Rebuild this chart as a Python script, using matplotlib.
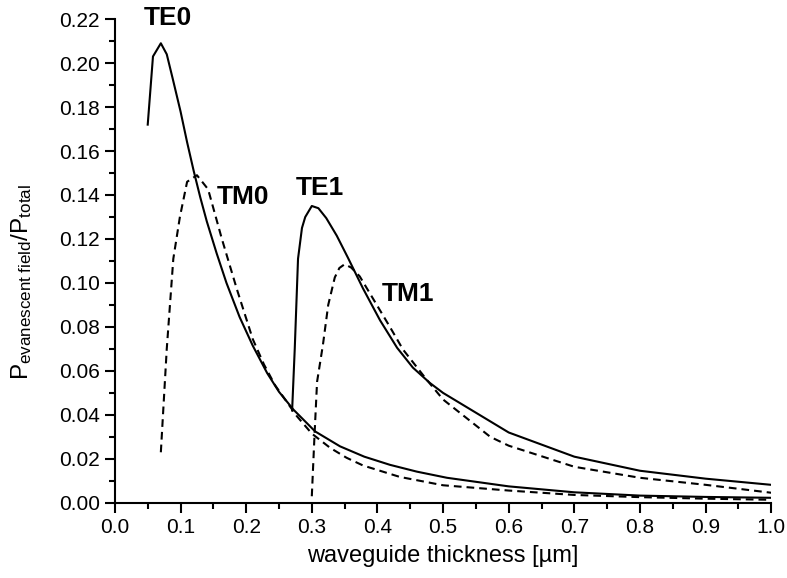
import numpy as np
import matplotlib
matplotlib.use("Agg")
import matplotlib.pyplot as plt
from matplotlib.ticker import MultipleLocator, FormatStrFormatter

plt.rcParams['font.family'] = ['Liberation Sans', 'DejaVu Sans']
plt.rcParams['mathtext.fontset'] = 'custom'
plt.rcParams['mathtext.rm'] = 'Liberation Sans'
plt.rcParams['mathtext.it'] = 'Liberation Sans'

# %% data
te0_x = [0.05, 0.058, 0.07, 0.079, 0.088, 0.10, 0.11, 0.12, 0.13, 0.14, 0.155, 0.17, 0.19, 0.21, 0.232, 0.25, 0.272,
         0.305, 0.343, 0.38, 0.419, 0.46, 0.506, 0.6, 0.7, 0.8, 0.9, 1.0]
te0_y = [0.172, 0.203, 0.209, 0.204, 0.193, 0.178, 0.164, 0.151, 0.139, 0.128, 0.1135, 0.100, 0.0845, 0.0715, 0.059, 0.0505, 0.0424,
         0.0325, 0.0257, 0.021, 0.0173, 0.0142, 0.0114, 0.0075, 0.0048, 0.0033, 0.0027, 0.0023]

tm0_x = [0.07, 0.079, 0.089, 0.099, 0.11, 0.125, 0.142, 0.163, 0.186, 0.21, 0.227, 0.244, 0.277, 0.30, 0.328, 0.353, 0.378, 0.434,
         0.5, 0.6, 0.7, 0.8, 0.9, 1.0]
tm0_y = [0.023, 0.070, 0.111, 0.130, 0.146, 0.149, 0.1426, 0.120, 0.097, 0.0745, 0.063, 0.0535, 0.0395, 0.0315, 0.025, 0.0205, 0.017,
         0.0118, 0.0080, 0.0056, 0.0036, 0.0026, 0.0019, 0.0014]

te1_x = [0.27, 0.274, 0.279, 0.285, 0.29, 0.30, 0.31, 0.322, 0.338, 0.355, 0.378, 0.404, 0.43, 0.454, 0.48, 0.5, 0.6, 0.7, 0.8, 0.9, 1.0]
te1_y = [0.042, 0.070, 0.111, 0.125, 0.130, 0.135, 0.134, 0.1295, 0.1215, 0.1115, 0.0975, 0.083, 0.0705, 0.0615, 0.0545, 0.050, 0.032,
         0.021, 0.0146, 0.011, 0.0082]

tm1_x = [0.30, 0.304, 0.308, 0.317, 0.325, 0.335, 0.342, 0.35, 0.36, 0.373, 0.394, 0.419, 0.439, 0.475, 0.5, 0.572, 0.6, 0.7, 0.8,
         0.9, 1.0]
tm1_y = [0.003, 0.030, 0.055, 0.072, 0.090, 0.1025, 0.1068, 0.1085, 0.107, 0.103, 0.0925, 0.080, 0.0697, 0.056, 0.047, 0.030, 0.026,
         0.0164, 0.0114, 0.0082, 0.0046]

labels = ['TE0', 'TM0', 'TE1', 'TM1']
label_pos = [(0.081, 0.2205), (0.195, 0.139), (0.3125, 0.143), (0.447, 0.095)]

# %%
fig = plt.figure(figsize=(7.87, 5.78), dpi=100)
ax = fig.add_axes([0.146, 0.130, 0.834, 0.837])

lw = 1.5
ax.plot(te0_x, te0_y, color='black', lw=lw)
ax.plot(te1_x, te1_y, color='black', lw=lw)
ax.plot(tm0_x, tm0_y, color='black', lw=lw, dashes=(3.7, 2.4))
ax.plot(tm1_x, tm1_y, color='black', lw=lw, dashes=(3.7, 2.4))

for lab, (x, y) in zip(labels, label_pos):
    ax.text(x, y, lab, fontsize=19, fontweight='bold', ha='center', va='center')

ax.set_xlim(0, 1.0)
ax.set_ylim(0, 0.22)
ax.xaxis.set_major_locator(MultipleLocator(0.1))
ax.xaxis.set_minor_locator(MultipleLocator(0.05))
ax.yaxis.set_major_locator(MultipleLocator(0.02))
ax.yaxis.set_minor_locator(MultipleLocator(0.01))
ax.xaxis.set_major_formatter(FormatStrFormatter('%.1f'))
ax.yaxis.set_major_formatter(FormatStrFormatter('%.2f'))

for s in ['top', 'right']:
    ax.spines[s].set_visible(False)
for s in ['left', 'bottom']:
    ax.spines[s].set_linewidth(1.5)

ax.tick_params(which='major', length=7.2, width=1.5, labelsize=15, direction='out')
ax.tick_params(which='minor', length=4.3, width=1.5, direction='out')

ax.set_xlabel('waveguide thickness [µm]', fontsize=17, labelpad=6)
ax.set_ylabel(r'P$_{\mathrm{evanescent\ field}}$/P$_{\mathrm{total}}$', fontsize=17.5)
ax.yaxis.set_label_coords(-0.124, 0.457)

fig.savefig('out.png', dpi=100)
